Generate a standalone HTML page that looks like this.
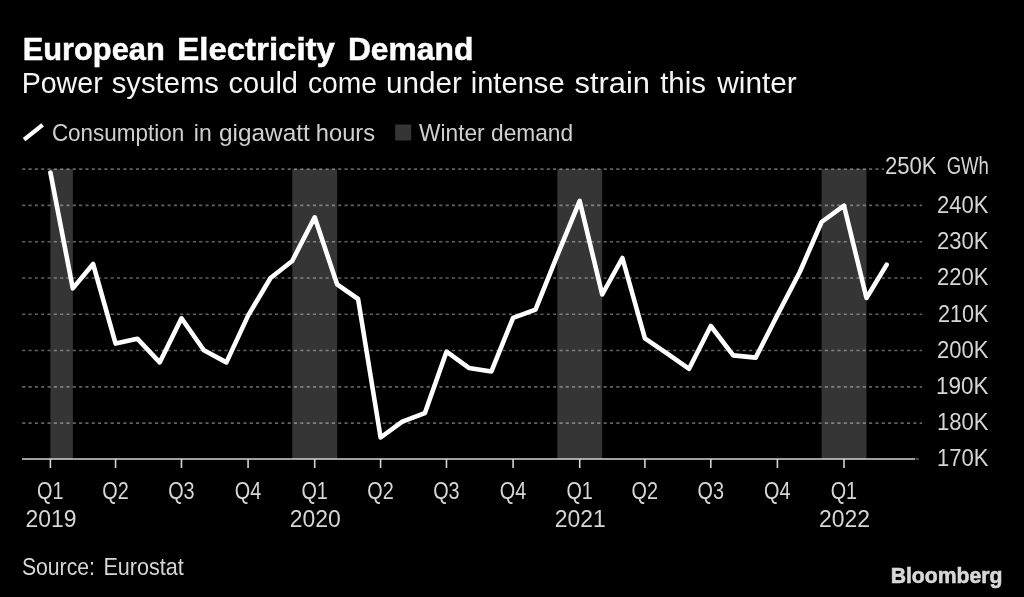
<!DOCTYPE html>
<html><head><meta charset="utf-8"><style>html,body{margin:0;padding:0;background:#000;width:1024px;height:597px;overflow:hidden}svg{display:block;will-change:transform}</style></head>
<body>
<svg width="1024" height="597" viewBox="0 0 1024 597"><rect x="50.40" y="169.1" width="22.45" height="289.9" fill="#353535"/>
<rect x="292.25" y="169.1" width="44.89" height="289.9" fill="#353535"/>
<rect x="557.27" y="169.1" width="44.89" height="289.9" fill="#353535"/>
<rect x="821.57" y="169.1" width="44.89" height="289.9" fill="#353535"/>
<line x1="22.2" y1="169.10" x2="884" y2="169.10" stroke="rgba(255,255,255,0.38)" stroke-width="1.6" stroke-dasharray="3.1 3.22"/>
<line x1="22.2" y1="205.39" x2="922" y2="205.39" stroke="rgba(255,255,255,0.38)" stroke-width="1.6" stroke-dasharray="3.1 3.22"/>
<line x1="22.2" y1="241.68" x2="922" y2="241.68" stroke="rgba(255,255,255,0.38)" stroke-width="1.6" stroke-dasharray="3.1 3.22"/>
<line x1="22.2" y1="277.97" x2="922" y2="277.97" stroke="rgba(255,255,255,0.38)" stroke-width="1.6" stroke-dasharray="3.1 3.22"/>
<line x1="22.2" y1="314.26" x2="922" y2="314.26" stroke="rgba(255,255,255,0.38)" stroke-width="1.6" stroke-dasharray="3.1 3.22"/>
<line x1="22.2" y1="350.55" x2="922" y2="350.55" stroke="rgba(255,255,255,0.38)" stroke-width="1.6" stroke-dasharray="3.1 3.22"/>
<line x1="22.2" y1="386.84" x2="922" y2="386.84" stroke="rgba(255,255,255,0.38)" stroke-width="1.6" stroke-dasharray="3.1 3.22"/>
<line x1="22.2" y1="423.13" x2="922" y2="423.13" stroke="rgba(255,255,255,0.38)" stroke-width="1.6" stroke-dasharray="3.1 3.22"/>
<line x1="915.6" y1="459.00" x2="922" y2="459.00" stroke="rgba(255,255,255,0.38)" stroke-width="1.6" stroke-dasharray="3.1 3.22"/>
<line x1="22" y1="459.0" x2="915" y2="459.0" stroke="#d4d4d4" stroke-width="1.6"/>
<line x1="50.40" y1="459.0" x2="50.40" y2="468" stroke="#d4d4d4" stroke-width="1.6"/>
<line x1="115.57" y1="459.0" x2="115.57" y2="468" stroke="#d4d4d4" stroke-width="1.6"/>
<line x1="181.46" y1="459.0" x2="181.46" y2="468" stroke="#d4d4d4" stroke-width="1.6"/>
<line x1="248.08" y1="459.0" x2="248.08" y2="468" stroke="#d4d4d4" stroke-width="1.6"/>
<line x1="314.70" y1="459.0" x2="314.70" y2="468" stroke="#d4d4d4" stroke-width="1.6"/>
<line x1="380.59" y1="459.0" x2="380.59" y2="468" stroke="#d4d4d4" stroke-width="1.6"/>
<line x1="446.48" y1="459.0" x2="446.48" y2="468" stroke="#d4d4d4" stroke-width="1.6"/>
<line x1="513.10" y1="459.0" x2="513.10" y2="468" stroke="#d4d4d4" stroke-width="1.6"/>
<line x1="579.72" y1="459.0" x2="579.72" y2="468" stroke="#d4d4d4" stroke-width="1.6"/>
<line x1="644.89" y1="459.0" x2="644.89" y2="468" stroke="#d4d4d4" stroke-width="1.6"/>
<line x1="710.78" y1="459.0" x2="710.78" y2="468" stroke="#d4d4d4" stroke-width="1.6"/>
<line x1="777.40" y1="459.0" x2="777.40" y2="468" stroke="#d4d4d4" stroke-width="1.6"/>
<line x1="844.01" y1="459.0" x2="844.01" y2="468" stroke="#d4d4d4" stroke-width="1.6"/>
<path d="M50.4,172.5 L72.8,288.4 L93.1,264.0 L115.6,343.6 L137.3,338.7 L159.7,362.4 L181.5,318.3 L203.9,350.3 L226.4,362.4 L248.1,315.6 L270.5,278.0 L292.2,261.0 L314.7,217.3 L337.1,284.3 L358.1,299.0 L380.6,437.5 L402.3,421.7 L424.8,413.2 L446.5,351.7 L468.9,367.9 L491.4,371.4 L513.1,317.8 L535.5,309.7 L557.3,255.4 L579.7,201.0 L602.2,294.5 L622.4,258.0 L644.9,338.4 L666.6,353.2 L689.1,368.8 L710.8,326.0 L733.2,355.4 L755.7,357.6 L777.4,315.0 L799.8,272.0 L821.6,222.0 L844.0,205.7 L866.5,298.0 L886.7,264.6" fill="none" stroke="#fff" stroke-width="4.6" stroke-linejoin="round" stroke-linecap="round"/>
<text x="22.68" y="59.9" font-family="Liberation Sans, sans-serif" font-size="32" font-weight="bold" fill="#ffffff" text-anchor="start" textLength="142.04" lengthAdjust="spacingAndGlyphs" stroke="#ffffff" stroke-width="0.5">European</text>
<text x="177.24" y="59.9" font-family="Liberation Sans, sans-serif" font-size="32" font-weight="bold" fill="#ffffff" text-anchor="start" textLength="157.63" lengthAdjust="spacingAndGlyphs" stroke="#ffffff" stroke-width="0.5">Electricity</text>
<text x="347.91" y="59.9" font-family="Liberation Sans, sans-serif" font-size="32" font-weight="bold" fill="#ffffff" text-anchor="start" textLength="125.42" lengthAdjust="spacingAndGlyphs" stroke="#ffffff" stroke-width="0.5">Demand</text>
<text x="21.63" y="92.8" font-family="Liberation Sans, sans-serif" font-size="29" font-weight="normal" fill="#f5f5f5" text-anchor="start" textLength="81.07" lengthAdjust="spacingAndGlyphs">Power</text>
<text x="111.69" y="92.8" font-family="Liberation Sans, sans-serif" font-size="29" font-weight="normal" fill="#f5f5f5" text-anchor="start" textLength="107.26" lengthAdjust="spacingAndGlyphs">systems</text>
<text x="228.6" y="92.8" font-family="Liberation Sans, sans-serif" font-size="29" font-weight="normal" fill="#f5f5f5" text-anchor="start" textLength="69.43" lengthAdjust="spacingAndGlyphs">could</text>
<text x="307.92" y="92.8" font-family="Liberation Sans, sans-serif" font-size="29" font-weight="normal" fill="#f5f5f5" text-anchor="start" textLength="69.17" lengthAdjust="spacingAndGlyphs">come</text>
<text x="386.06" y="92.8" font-family="Liberation Sans, sans-serif" font-size="29" font-weight="normal" fill="#f5f5f5" text-anchor="start" textLength="75.82" lengthAdjust="spacingAndGlyphs">under</text>
<text x="470.69" y="92.8" font-family="Liberation Sans, sans-serif" font-size="29" font-weight="normal" fill="#f5f5f5" text-anchor="start" textLength="93.93" lengthAdjust="spacingAndGlyphs">intense</text>
<text x="574.44" y="92.8" font-family="Liberation Sans, sans-serif" font-size="29" font-weight="normal" fill="#f5f5f5" text-anchor="start" textLength="75.51" lengthAdjust="spacingAndGlyphs">strain</text>
<text x="660.2" y="92.8" font-family="Liberation Sans, sans-serif" font-size="29" font-weight="normal" fill="#f5f5f5" text-anchor="start" textLength="45.65" lengthAdjust="spacingAndGlyphs">this</text>
<text x="717.3" y="92.8" font-family="Liberation Sans, sans-serif" font-size="29" font-weight="normal" fill="#f5f5f5" text-anchor="start" textLength="79.47" lengthAdjust="spacingAndGlyphs">winter</text>
<text x="51.88" y="140.8" font-family="Liberation Sans, sans-serif" font-size="24.5" font-weight="normal" fill="#d0d0d0" text-anchor="start" textLength="132.36" lengthAdjust="spacingAndGlyphs">Consumption</text>
<text x="193.86" y="140.8" font-family="Liberation Sans, sans-serif" font-size="24.5" font-weight="normal" fill="#d0d0d0" text-anchor="start" textLength="17.96" lengthAdjust="spacingAndGlyphs">in</text>
<text x="219.0" y="140.8" font-family="Liberation Sans, sans-serif" font-size="24.5" font-weight="normal" fill="#d0d0d0" text-anchor="start" textLength="90.86" lengthAdjust="spacingAndGlyphs">gigawatt</text>
<text x="315.87" y="140.8" font-family="Liberation Sans, sans-serif" font-size="24.5" font-weight="normal" fill="#d0d0d0" text-anchor="start" textLength="59.22" lengthAdjust="spacingAndGlyphs">hours</text>
<text x="419.0" y="140.8" font-family="Liberation Sans, sans-serif" font-size="24.5" font-weight="normal" fill="#d0d0d0" text-anchor="start" textLength="154.16" lengthAdjust="spacingAndGlyphs">Winter demand</text>
<text x="21.93" y="575.0" font-family="Liberation Sans, sans-serif" font-size="24.4" font-weight="normal" fill="#d6d6d6" text-anchor="start" textLength="72.96" lengthAdjust="spacingAndGlyphs">Source:</text>
<text x="103.43" y="575.0" font-family="Liberation Sans, sans-serif" font-size="24.4" font-weight="normal" fill="#d6d6d6" text-anchor="start" textLength="80.43" lengthAdjust="spacingAndGlyphs">Eurostat</text>
<text x="890.66" y="582.9" font-family="Liberation Sans, sans-serif" font-size="22.5" font-weight="bold" fill="#d8d8d8" text-anchor="start" textLength="111.76" lengthAdjust="spacingAndGlyphs" stroke="#d8d8d8" stroke-width="0.6">Bloomberg</text>
<text x="37.09" y="498.8" font-family="Liberation Sans, sans-serif" font-size="23" font-weight="normal" fill="#d6d6d6" text-anchor="start" textLength="26.45" lengthAdjust="spacingAndGlyphs">Q1</text>
<text x="25.5" y="526.9" font-family="Liberation Sans, sans-serif" font-size="23" font-weight="normal" fill="#d6d6d6" text-anchor="start" textLength="50.96" lengthAdjust="spacingAndGlyphs">2019</text>
<text x="102.26" y="498.8" font-family="Liberation Sans, sans-serif" font-size="23" font-weight="normal" fill="#d6d6d6" text-anchor="start" textLength="26.45" lengthAdjust="spacingAndGlyphs">Q2</text>
<text x="168.15" y="498.8" font-family="Liberation Sans, sans-serif" font-size="23" font-weight="normal" fill="#d6d6d6" text-anchor="start" textLength="26.45" lengthAdjust="spacingAndGlyphs">Q3</text>
<text x="234.77" y="498.8" font-family="Liberation Sans, sans-serif" font-size="23" font-weight="normal" fill="#d6d6d6" text-anchor="start" textLength="26.45" lengthAdjust="spacingAndGlyphs">Q4</text>
<text x="301.38" y="498.8" font-family="Liberation Sans, sans-serif" font-size="23" font-weight="normal" fill="#d6d6d6" text-anchor="start" textLength="26.45" lengthAdjust="spacingAndGlyphs">Q1</text>
<text x="289.8" y="526.9" font-family="Liberation Sans, sans-serif" font-size="23" font-weight="normal" fill="#d6d6d6" text-anchor="start" textLength="50.96" lengthAdjust="spacingAndGlyphs">2020</text>
<text x="367.28" y="498.8" font-family="Liberation Sans, sans-serif" font-size="23" font-weight="normal" fill="#d6d6d6" text-anchor="start" textLength="26.45" lengthAdjust="spacingAndGlyphs">Q2</text>
<text x="433.17" y="498.8" font-family="Liberation Sans, sans-serif" font-size="23" font-weight="normal" fill="#d6d6d6" text-anchor="start" textLength="26.45" lengthAdjust="spacingAndGlyphs">Q3</text>
<text x="499.79" y="498.8" font-family="Liberation Sans, sans-serif" font-size="23" font-weight="normal" fill="#d6d6d6" text-anchor="start" textLength="26.45" lengthAdjust="spacingAndGlyphs">Q4</text>
<text x="566.41" y="498.8" font-family="Liberation Sans, sans-serif" font-size="23" font-weight="normal" fill="#d6d6d6" text-anchor="start" textLength="26.45" lengthAdjust="spacingAndGlyphs">Q1</text>
<text x="554.82" y="526.9" font-family="Liberation Sans, sans-serif" font-size="23" font-weight="normal" fill="#d6d6d6" text-anchor="start" textLength="50.96" lengthAdjust="spacingAndGlyphs">2021</text>
<text x="631.57" y="498.8" font-family="Liberation Sans, sans-serif" font-size="23" font-weight="normal" fill="#d6d6d6" text-anchor="start" textLength="26.45" lengthAdjust="spacingAndGlyphs">Q2</text>
<text x="697.47" y="498.8" font-family="Liberation Sans, sans-serif" font-size="23" font-weight="normal" fill="#d6d6d6" text-anchor="start" textLength="26.45" lengthAdjust="spacingAndGlyphs">Q3</text>
<text x="764.08" y="498.8" font-family="Liberation Sans, sans-serif" font-size="23" font-weight="normal" fill="#d6d6d6" text-anchor="start" textLength="26.45" lengthAdjust="spacingAndGlyphs">Q4</text>
<text x="830.7" y="498.8" font-family="Liberation Sans, sans-serif" font-size="23" font-weight="normal" fill="#d6d6d6" text-anchor="start" textLength="26.45" lengthAdjust="spacingAndGlyphs">Q1</text>
<text x="819.12" y="526.9" font-family="Liberation Sans, sans-serif" font-size="23" font-weight="normal" fill="#d6d6d6" text-anchor="start" textLength="50.96" lengthAdjust="spacingAndGlyphs">2022</text>
<text x="884.94" y="173.5" font-family="Liberation Sans, sans-serif" font-size="23" font-weight="normal" fill="#d6d6d6" text-anchor="start" textLength="51.65" lengthAdjust="spacingAndGlyphs">250K</text>
<text x="946.69" y="173.5" font-family="Liberation Sans, sans-serif" font-size="23" font-weight="normal" fill="#d6d6d6" text-anchor="start" textLength="42.23" lengthAdjust="spacingAndGlyphs">GWh</text>
<text x="937.04" y="213.0" font-family="Liberation Sans, sans-serif" font-size="23" font-weight="normal" fill="#d6d6d6" text-anchor="start" textLength="51.45" lengthAdjust="spacingAndGlyphs">240K</text>
<text x="937.04" y="249.2" font-family="Liberation Sans, sans-serif" font-size="23" font-weight="normal" fill="#d6d6d6" text-anchor="start" textLength="51.45" lengthAdjust="spacingAndGlyphs">230K</text>
<text x="937.04" y="285.4" font-family="Liberation Sans, sans-serif" font-size="23" font-weight="normal" fill="#d6d6d6" text-anchor="start" textLength="51.45" lengthAdjust="spacingAndGlyphs">220K</text>
<text x="937.96" y="321.6" font-family="Liberation Sans, sans-serif" font-size="23" font-weight="normal" fill="#d6d6d6" text-anchor="start" textLength="50.52" lengthAdjust="spacingAndGlyphs">210K</text>
<text x="937.04" y="357.8" font-family="Liberation Sans, sans-serif" font-size="23" font-weight="normal" fill="#d6d6d6" text-anchor="start" textLength="51.45" lengthAdjust="spacingAndGlyphs">200K</text>
<text x="936.05" y="394.0" font-family="Liberation Sans, sans-serif" font-size="23" font-weight="normal" fill="#d6d6d6" text-anchor="start" textLength="52.45" lengthAdjust="spacingAndGlyphs">190K</text>
<text x="936.98" y="430.2" font-family="Liberation Sans, sans-serif" font-size="23" font-weight="normal" fill="#d6d6d6" text-anchor="start" textLength="51.51" lengthAdjust="spacingAndGlyphs">180K</text>
<text x="936.98" y="466.4" font-family="Liberation Sans, sans-serif" font-size="23" font-weight="normal" fill="#d6d6d6" text-anchor="start" textLength="51.51" lengthAdjust="spacingAndGlyphs">170K</text>
<line x1="24.1" y1="139.7" x2="42.6" y2="124.8" stroke="#fff" stroke-width="4.3"/>
<rect x="395.2" y="124.5" width="16" height="16" fill="#353535"/></svg>
</body></html>
